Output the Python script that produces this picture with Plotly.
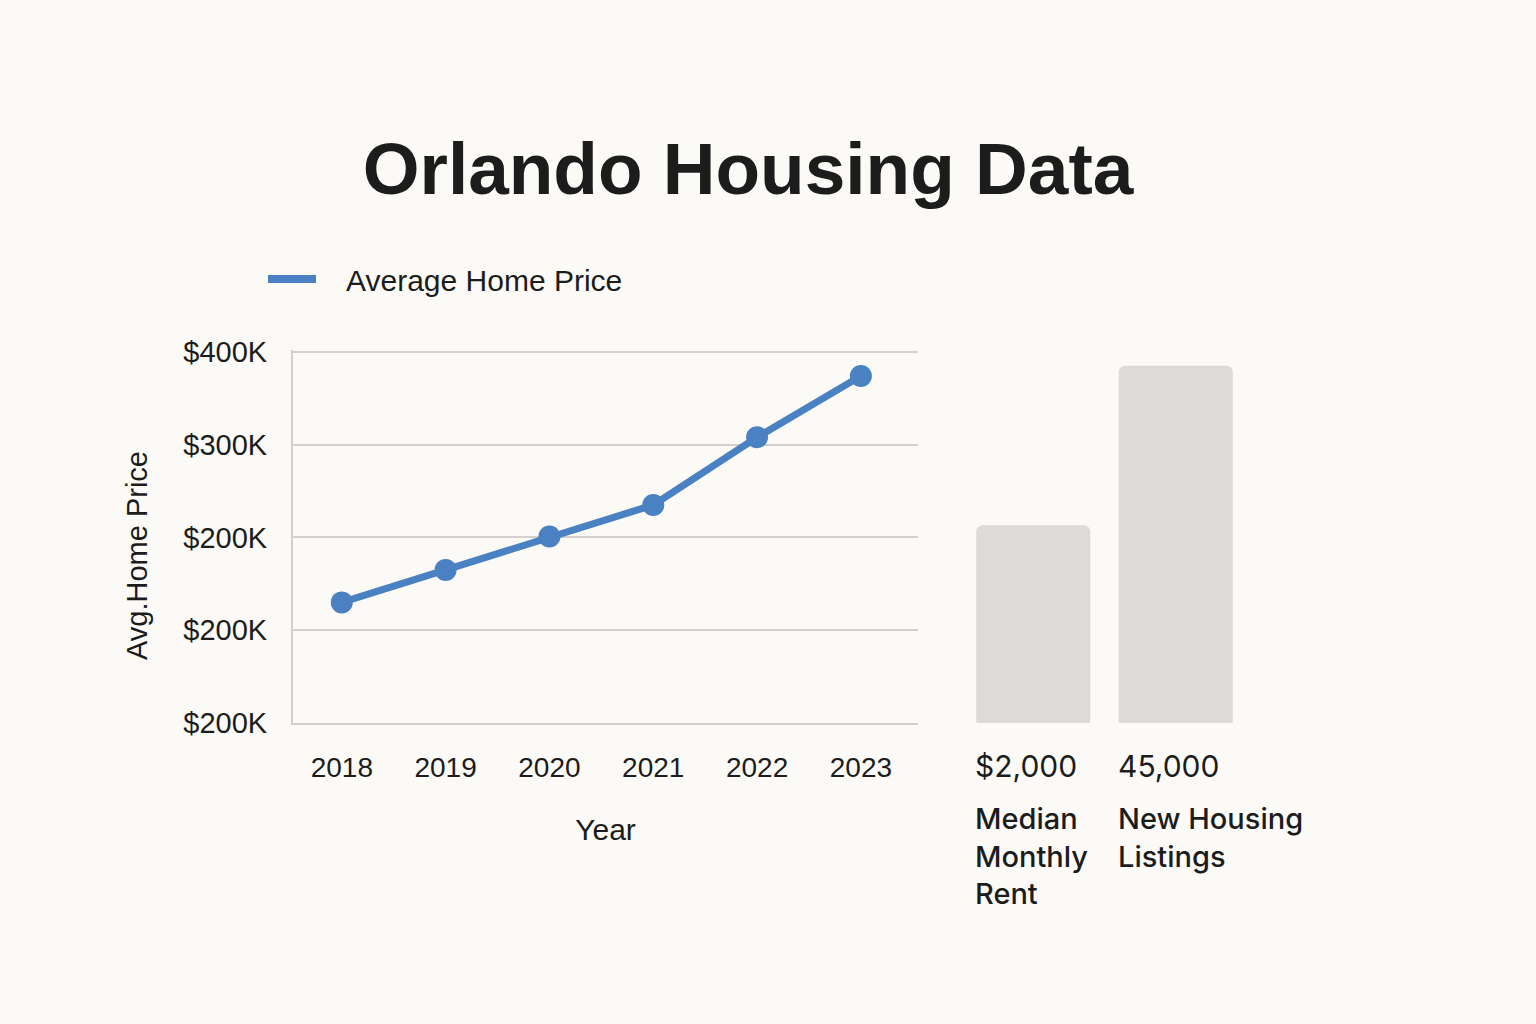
import plotly.graph_objects as go

# ---- data ----
years = [2018, 2019, 2020, 2021, 2022, 2023]
avg_price_k = [130, 165, 201, 235, 308, 374]          # thousands of $
y_tick_vals = [0, 100, 200, 300, 400]
y_tick_text = ["$200K", "$200K", "$200K", "$300K", "$400K"]

bar_categories = ["Median Monthly Rent", "New Housing Listings"]
bar_heights = [213, 385]                               # visual bar heights (same scale as left axis)
bar_value_text = ["$2,000", "45,000"]
bar_label_text = ["Median<br>Monthly<br>Rent", "New Housing<br>Listings"]

W, H = 1536, 1024
BG = "#fbfaf6"
BLUE = "#4a81c3"
GRID = "#d3d0cb"
BAR = "#dcdbd7"
TXT = "#1c1c1c"
SANS = "Liberation Sans, Arial, sans-serif"
GROT = "Inter, Roboto, sans-serif"

def px_x(p):
    return p / W

def px_y(p):
    return 1 - p / H

fig = go.Figure()

fig.add_trace(go.Scatter(
    x=years, y=avg_price_k, mode="lines+markers",
    line=dict(color=BLUE, width=7),
    marker=dict(color=BLUE, size=22),
    showlegend=False, xaxis="x", yaxis="y",
))
# legend entry (line only)
fig.add_trace(go.Scatter(
    x=[None], y=[None], mode="lines",
    name="\u00a0\u00a0\u00a0Average Home Price",
    line=dict(color=BLUE, width=8), xaxis="x", yaxis="y",
))

fig.add_trace(go.Bar(
    x=bar_categories, y=bar_heights,
    marker=dict(color=BAR, cornerradius=6, line=dict(width=0)),
    showlegend=False, xaxis="x2", yaxis="y2", hoverinfo="skip",
))

fig.update_layout(
    width=W, height=H,
    margin=dict(l=0, r=0, t=0, b=0),
    paper_bgcolor=BG, plot_bgcolor=BG,
    bargap=0.2,
    title=dict(
        text="<b>Orlando Housing Data</b>",
        x=px_x(748), xanchor="center",
        y=px_y(168), yanchor="middle",
        font=dict(family=SANS, size=73, color=TXT),
    ),
    legend=dict(
        x=px_x(263), y=px_y(279), xanchor="left", yanchor="middle",
        font=dict(family=SANS, size=30, color=TXT),
        bgcolor="rgba(0,0,0,0)", itemwidth=48,
    ),
    xaxis=dict(
        domain=[px_x(293), px_x(918)],
        range=[2017.53, 2023.55],
        tickvals=years, ticktext=[str(y) for y in years],
        showgrid=False, zeroline=False,
        showline=True, linecolor=GRID, linewidth=2,
        tickfont=dict(family=SANS, size=28, color=TXT), ticks="", ticklabelstandoff=18,
        title=dict(text="Year", font=dict(family=SANS, size=30, color=TXT), standoff=37),
        anchor="y", automargin=False,
    ),
    yaxis=dict(
        domain=[px_y(723), px_y(350)],
        range=[0, 402],
        tickvals=y_tick_vals, ticktext=y_tick_text,
        showgrid=True, gridcolor=GRID, gridwidth=2,
        zeroline=False,
        showline=True, linecolor=GRID, linewidth=2,
        tickfont=dict(family=SANS, size=29, color=TXT), ticks="", ticklabelstandoff=18,
        anchor="x", automargin=False,
    ),
    xaxis2=dict(
        domain=[px_x(962), px_x(1247)],
        range=[-0.5, 1.5],
        showticklabels=False, showgrid=False, zeroline=False, showline=False,
        anchor="y2",
    ),
    yaxis2=dict(
        domain=[px_y(723), px_y(350)],
        range=[0, 402],
        visible=False, anchor="x2",
    ),
)

# y-axis title (placed to match the reference's offset)
fig.add_annotation(
    x=px_x(137), xref="paper", xanchor="center",
    y=px_y(556), yref="paper", yanchor="middle",
    text="Avg.Home Price", textangle=-90, showarrow=False,
    font=dict(family=SANS, size=29, color=TXT),
)

for cat, val, lab in zip(bar_categories, bar_value_text, bar_label_text):
    fig.add_annotation(
        x=cat, xref="x2", xshift=-60, xanchor="left",
        y=px_y(766), yref="paper", yanchor="middle",
        text=val, showarrow=False, align="left",
        font=dict(family=GROT, size=30, color=TXT),
    )
    fig.add_annotation(
        x=cat, xref="x2", xshift=-60, xanchor="left",
        y=px_y(799), yref="paper", yanchor="top",
        text=lab, showarrow=False, align="left",
        font=dict(family=GROT, size=29, color=TXT, weight=500),
    )

fig.write_html("out.html")
